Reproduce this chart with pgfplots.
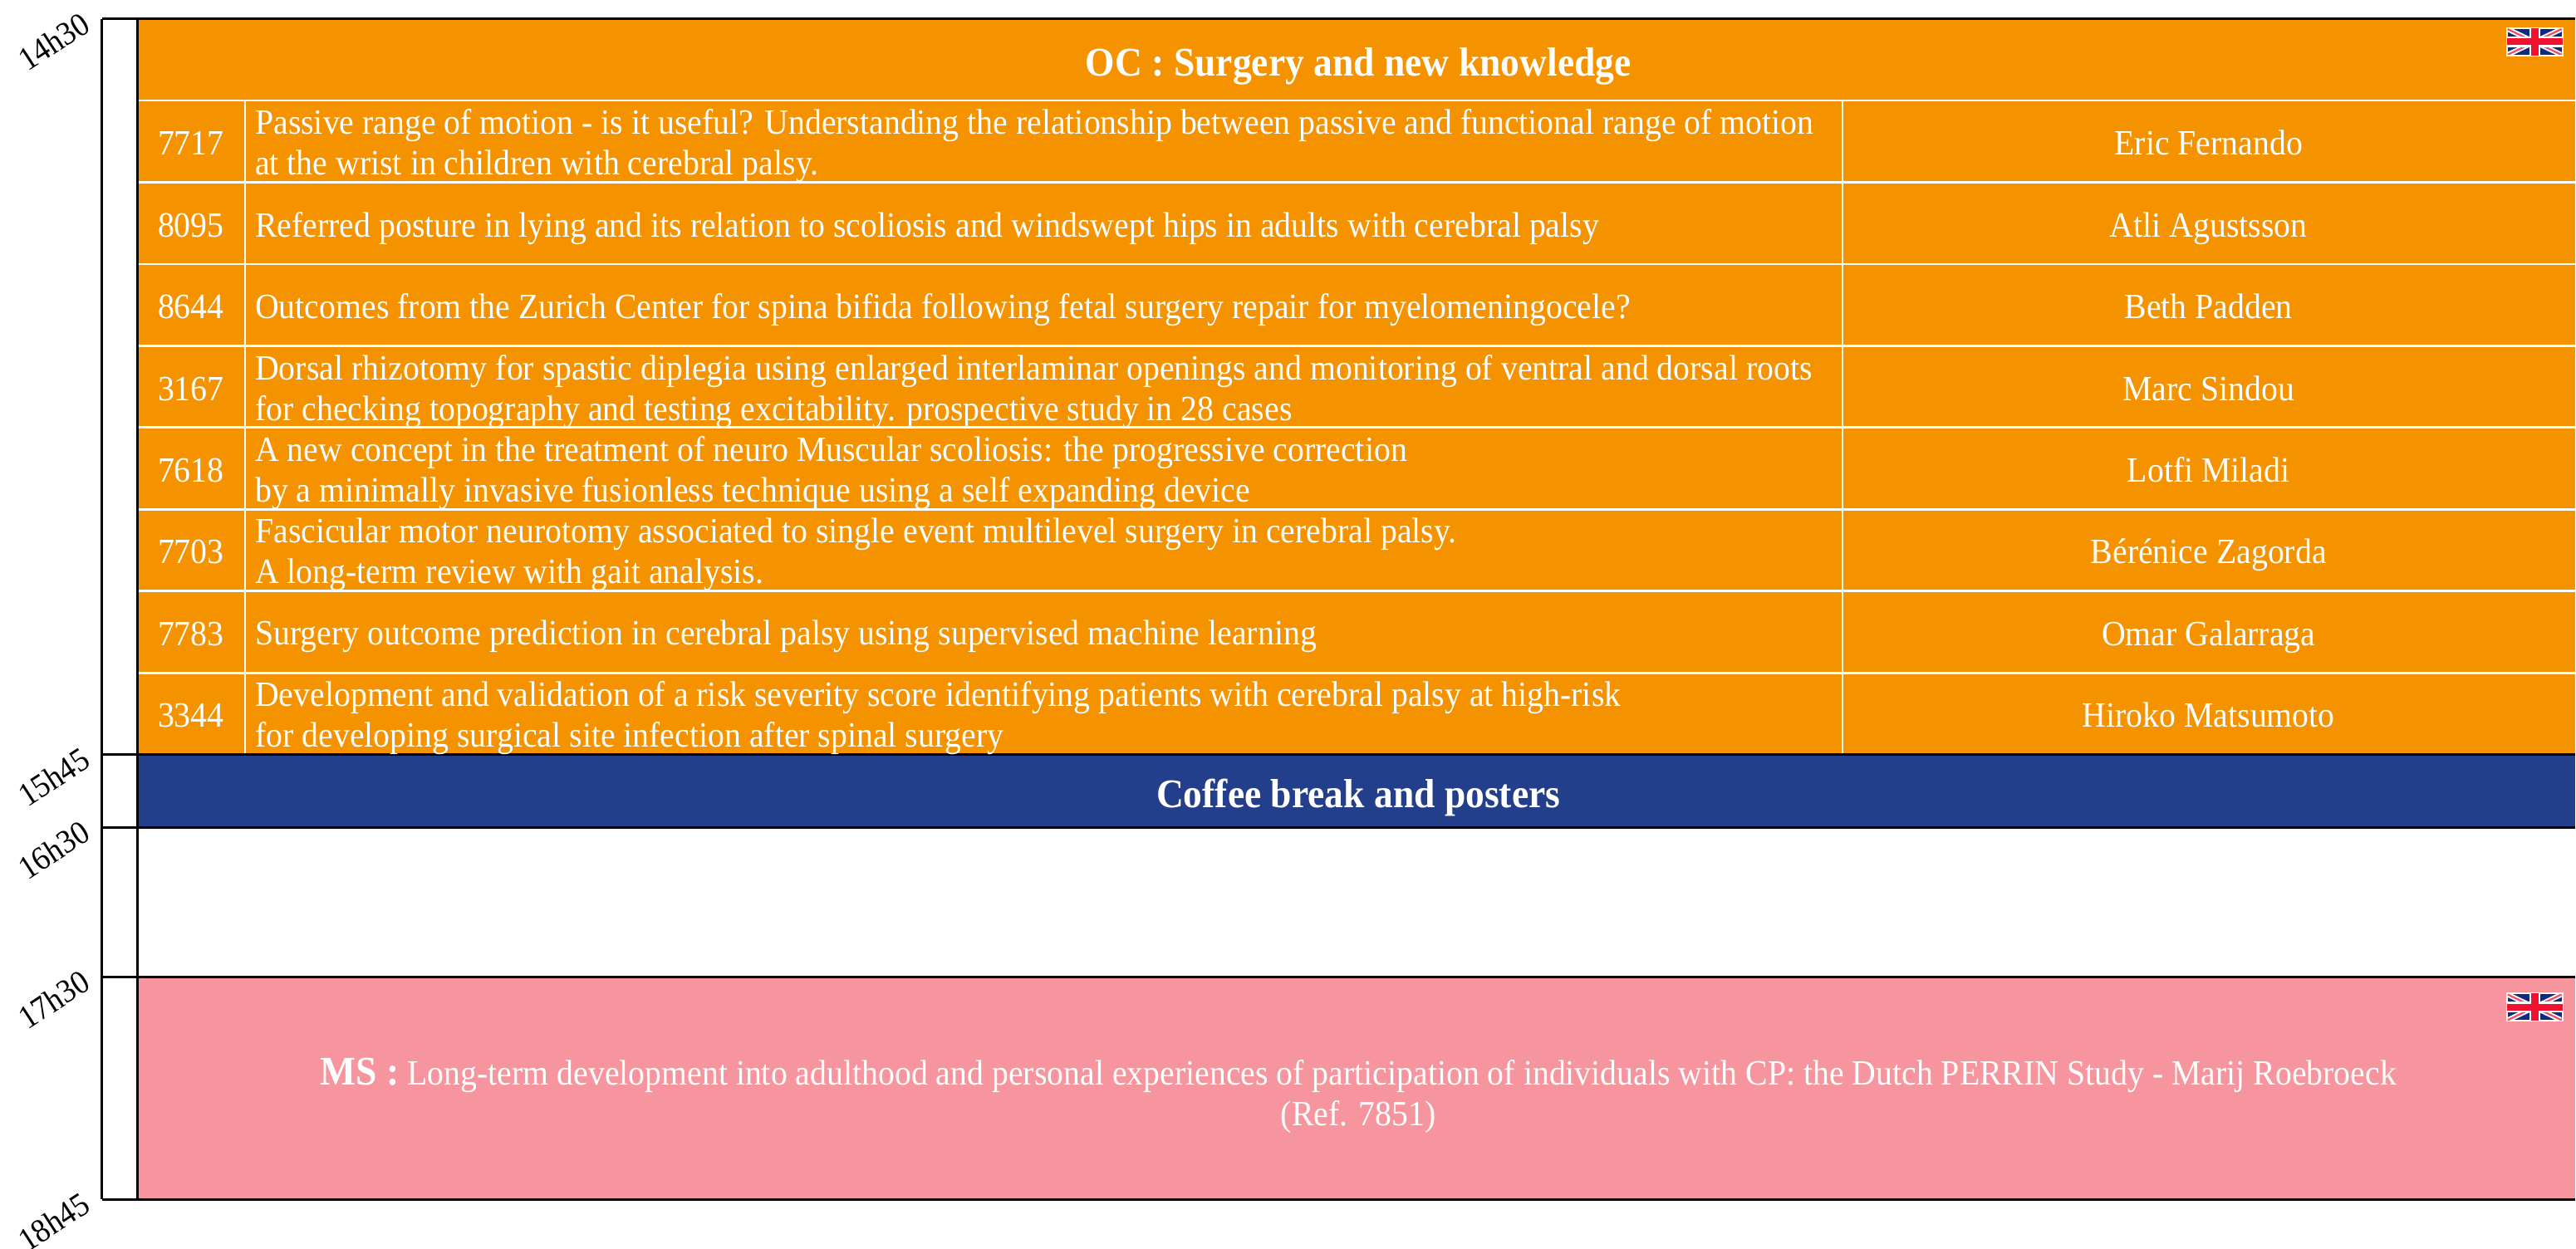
\documentclass[border=0pt]{standalone}
\usepackage{fontspec}
\setmainfont[FakeStretch=0.93]{Liberation Serif}
\usepackage{pgfplots}
\pgfplotsset{compat=1.18}
\definecolor{oc}{HTML}{F49200}
\definecolor{cb}{HTML}{233F8C}
\definecolor{ms}{HTML}{F6959D}
\definecolor{fn}{HTML}{0F2A80}
\definecolor{fr}{HTML}{F01030}
\newcommand{\block}[5]{\addplot[fill=#5,draw=none,forget plot] coordinates {(#1,#3)(#2,#3)(#2,#4)(#1,#4)} -- cycle;}
\newcommand{\hl}[2]{\addplot[#2,line width=1.5pt,forget plot] coordinates {(123,#1)(3101,#1)};}
\newcommand{\wl}[1]{\addplot[white,line width=1.3pt,forget plot] coordinates {(166,#1)(3101,#1)};}
\newcommand{\flag}[1]{%
 \fill[white] (axis cs:3018,#1) rectangle (axis cs:3087,{#1+35});
 \fill[fn] (axis cs:3020,{#1+2}) rectangle (axis cs:3085,{#1+33});
 \begin{scope}
 \clip (axis cs:3020,{#1+2}) rectangle (axis cs:3085,{#1+33});
 \draw[white,line width=3pt] (axis cs:3020,{#1+2}) -- (axis cs:3085,{#1+33});
 \draw[white,line width=3pt] (axis cs:3020,{#1+33}) -- (axis cs:3085,{#1+2});
 \draw[fr!75!white,line width=1.1pt] (axis cs:3020,{#1+2}) -- (axis cs:3085,{#1+33});
 \draw[fr!75!white,line width=1.1pt] (axis cs:3020,{#1+33}) -- (axis cs:3085,{#1+2});
 \end{scope}
 \fill[white] (axis cs:3046,#1) rectangle (axis cs:3059,{#1+35});
 \fill[white] (axis cs:3018,{#1+11}) rectangle (axis cs:3087,{#1+24});
 \fill[fr] (axis cs:3048,{#1+1}) rectangle (axis cs:3057,{#1+34});
 \fill[fr] (axis cs:3019,{#1+13.5}) rectangle (axis cs:3086,{#1+21.5});
}
\newcommand{\rowtext}[4]{%
 \node[white,anchor=center,text height=1.5ex,text depth=.25ex] at (axis cs:230,{#1+10}) {\rf #2};
 \node[white,anchor=west,align=left,font=\rf,inner sep=0pt] at (axis cs:307,{#1+5}) {#3};
 \node[white,anchor=center,text height=1.5ex,text depth=.25ex] at (axis cs:2660,{#1+10}) {\rf #4};
}
\newcommand{\rf}{\fontsize{21.4}{24.4}\selectfont}
\begin{document}
\begin{tikzpicture}
\begin{axis}[name=ax,scale only axis,width=1489pt,height=752pt,
 xmin=123,xmax=3101,ymin=0,ymax=1504,y dir=reverse,clip=false,
 axis x line=none,axis y line=left,axis line style={draw=none},
 major tick length=0pt,xtick=\empty,
 ytick={23,909,997,1177,1445},
 yticklabels={14h30,15h45,16h30,17h30,18h45},
 y tick label style={rotate=33,anchor=east,overlay,xshift=-5pt,yshift=4.5pt,font=\fontsize{20}{24}\selectfont}]
\block{166}{3101}{23}{909}{oc}
\block{166}{3101}{909}{997}{cb}
\block{166}{3101}{1177}{1445}{ms}
% white grid
\wl{121}\wl{219.6}\wl{318}\wl{416.6}\wl{515}\wl{613.6}\wl{712}\wl{810.6}
\addplot[white,line width=1.3pt,forget plot] coordinates {(295,121)(295,909)};
\addplot[white,line width=1.3pt,forget plot] coordinates {(2219,121)(2219,909)};
% black frame
\hl{23}{black}\hl{909}{black}\hl{997}{black}\hl{1177}{black}\hl{1445}{black}
\addplot[black,line width=1.5pt,forget plot] coordinates {(123,23)(123,1445)};
\addplot[black,line width=1.5pt,forget plot] coordinates {(166,23)(166,1445)};
\flag{33}
\flag{1196}
\node[white,font=\fontsize{24.5}{28}\selectfont\bfseries] at (axis cs:1636,80) {OC : Surgery and new knowledge};
\rowtext{171}{7717}{Passive range of motion - is it useful? Understanding the relationship between passive and functional range of motion\\at the wrist in children with cerebral palsy.}{Eric Fernando}
\rowtext{270}{8095}{Referred posture in lying and its relation to scoliosis and windswept hips in adults with cerebral palsy}{Atli Agustsson}
\rowtext{368}{8644}{Outcomes from the Zurich Center for spina bifida following fetal surgery repair for myelomeningocele?}{Beth Padden}
\rowtext{467}{3167}{Dorsal rhizotomy for spastic diplegia using enlarged interlaminar openings and monitoring of ventral and dorsal roots\\for checking topography and testing excitability. prospective study in 28 cases}{Marc Sindou}
\rowtext{565}{7618}{A new concept in the treatment of neuro Muscular scoliosis: the progressive correction\\by a minimally invasive fusionless technique using a self expanding device}{Lotfi Miladi}
\rowtext{663}{7703}{Fascicular motor neurotomy associated to single event multilevel surgery in cerebral palsy.\\A long-term review with gait analysis.}{Bérénice Zagorda}
\rowtext{762}{7783}{Surgery outcome prediction in cerebral palsy using supervised machine learning}{Omar Galarraga}
\rowtext{860}{3344}{Development and validation of a risk severity score identifying patients with cerebral palsy at high-risk\\for developing surgical site infection after spinal surgery}{Hiroko Matsumoto}
\node[white,font=\fontsize{24.5}{26}\selectfont\bfseries] at (axis cs:1636,961) {Coffee break and posters};
\node[white,font=\rf] at (axis cs:1636,1296) {{\fontsize{24.5}{26}\selectfont\bfseries MS :} Long-term development into adulthood and personal experiences of participation of individuals with CP: the Dutch PERRIN Study - Marij Roebroeck};
\node[white,font=\rf] at (axis cs:1636,1346) {(Ref. 7851)};
\end{axis}
\path ([xshift=-61.5pt]ax.south west) rectangle (ax.north east);
\end{tikzpicture}
\end{document}
